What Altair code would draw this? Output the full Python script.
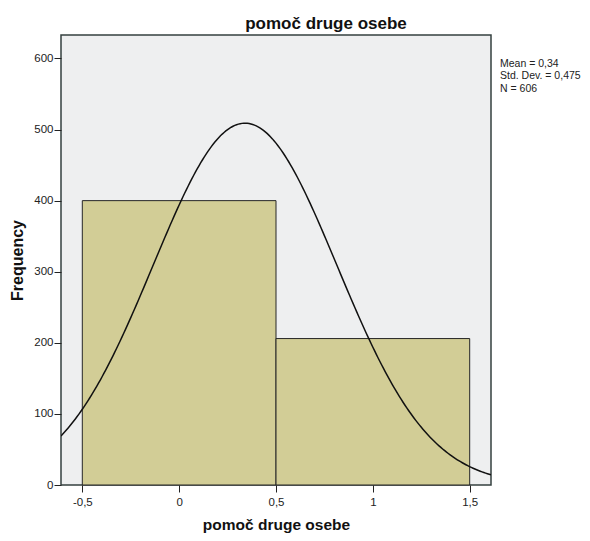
import altair as alt
import numpy as np
import pandas as pd

# ---- data ----
bin_start = [-0.5, 0.5]
bin_end = [0.5, 1.5]
frequency = [400, 206]
mean_value = 0.34
std_dev = 0.475
n_cases = 606
bin_width = 1.0
x_ticks = [-0.5, 0, 0.5, 1, 1.5]
y_ticks = [0, 100, 200, 300, 400, 500, 600]
stats_lines = ["Mean = 0,34", "Std. Dev. = 0,475", "N = 606"]
x_domain = [-0.61, 1.61]
y_domain = [0, 633]

bars_df = pd.DataFrame({"start": bin_start, "end": bin_end,
                        "freq": frequency, "zero": [0] * len(frequency)})

# fitted normal curve defined by the displayed Mean / Std. Dev. / N
xs = np.linspace(x_domain[0], x_domain[1], 241)
ys = n_cases * bin_width / (std_dev * np.sqrt(2 * np.pi)) * np.exp(
    -0.5 * ((xs - mean_value) / std_dev) ** 2)
curve_df = pd.DataFrame({"x": xs, "y": ys})

FONT = "Liberation Sans"

xscale = alt.Scale(domain=x_domain, nice=False, zero=False)
yscale = alt.Scale(domain=y_domain, nice=False, zero=True)

xaxis = alt.Axis(values=x_ticks, labelExpr="replace(toString(datum.value), '.', ',')",
                 grid=False, domain=False, tickSize=7, tickColor="#222",
                 labelFont=FONT, labelFontSize=11.5, labelColor="#222",
                 labelPadding=4, titleFont=FONT, titleFontSize=15.5,
                 titleFontWeight="bold", titleColor="#111", titlePadding=10)
yaxis = alt.Axis(values=y_ticks, grid=False, domain=False, tickSize=7,
                 tickColor="#222", labelFont=FONT, labelFontSize=11.5,
                 labelColor="#222", labelPadding=1, titleFont=FONT,
                 titleFontSize=16, titleFontWeight="bold", titleColor="#111",
                 titlePadding=8)

bars = alt.Chart(bars_df).mark_rect(
    fill="#D2CD96", stroke="#262626", strokeWidth=1
).encode(
    x=alt.X("start:Q", scale=xscale, axis=xaxis, title="pomoč druge osebe"),
    x2="end:Q",
    y=alt.Y("freq:Q", scale=yscale, axis=yaxis, title="Frequency"),
    y2="zero:Q",
)

curve = alt.Chart(curve_df).mark_line(
    color="#111111", strokeWidth=1.5, clip=True
).encode(x="x:Q", y="y:Q")

stats = alt.Chart(pd.DataFrame({"a": [0]})).mark_text(
    text=stats_lines, align="left", baseline="top", font=FONT,
    fontSize=10.5, lineHeight=12.5, color="#222"
).encode(x=alt.value(439), y=alt.value(23.5))

chart = alt.layer(bars, curve, stats).properties(
    width=430, height=450,
    title=alt.TitleParams("pomoč druge osebe", font=FONT, fontSize=17,
                          fontWeight="bold", anchor="middle", dx=50,
                          offset=2, color="#111"),
    padding={"left": 53, "top": 27, "right": 91, "bottom": 48},
    autosize=alt.AutoSizeParams(type="none"),
).configure_view(
    fill="#EEEFF0", stroke="#34403f", strokeWidth=1.5
)

chart.save("out.html", embed_options={"renderer": "svg", "actions": False})
